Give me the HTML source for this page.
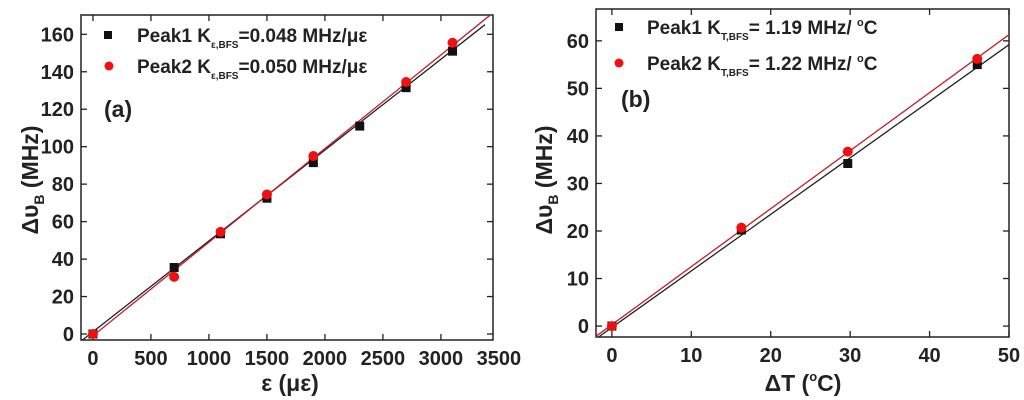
<!DOCTYPE html>
<html><head><meta charset="utf-8"><style>
html,body{margin:0;padding:0;background:#fff;}
svg{display:block;font-family:"Liberation Sans",sans-serif;font-weight:bold;}
</style></head><body>
<svg id="fig" width="1024" height="400" viewBox="0 0 1024 400" xmlns="http://www.w3.org/2000/svg">
<g id="pa"></g>
<g id="pb"></g>
</svg>
<script>
// Panel (a) data
const aX1 = [0, 700, 1100, 1500, 1900, 2300, 2700, 3100];
const aY1 = [0, 35.5, 53.5, 72.5, 91.5, 111, 131.5, 151];
const aX2 = [0, 700, 1100, 1500, 1900, 2700, 3100];
const aY2 = [0, 30.5, 54.5, 74.5, 95, 134.5, 155.5];
const aFit1 = [0.0485, 1.2];
const aFit2 = [0.050, -1.0];
const aXTicks = [0, 500, 1000, 1500, 2000, 2500, 3000, 3500];
const aYTicks = [0, 20, 40, 60, 80, 100, 120, 140, 160];
// Panel (b) data
const bX1 = [0, 16.3, 29.7, 46];
const bY1 = [0, 20.2, 34.2, 55];
const bX2 = [0, 16.3, 29.7, 46];
const bY2 = [0, 20.7, 36.7, 56.2];
const bFit1 = [1.19, -0.3];
const bFit2 = [1.22, 0.3];
const bXTicks = [0, 10, 20, 30, 40, 50];
const bYTicks = [0, 10, 20, 30, 40, 50, 60];

const NS = "http://www.w3.org/2000/svg";
function mk(parent, tag, attrs, text) {
  const e = document.createElementNS(NS, tag);
  for (const k in attrs) e.setAttribute(k, attrs[k]);
  if (text !== undefined) e.textContent = text;
  parent.appendChild(e);
  return e;
}

function panel(g, cfg) {
  const {L, R, T, B, x0, x1, y0, y1} = cfg;
  const sx = v => L + (v - x0) / (x1 - x0) * (R - L);
  const sy = v => B - (v - y0) / (y1 - y0) * (B - T);
  const fr = mk(g, 'rect', {x: L, y: T, width: R - L, height: B - T, fill: 'none', stroke: '#222', 'stroke-width': 1.5});
  
  
  cfg.xt.forEach(v => {
    const x = sx(v);
    if (x <= R + 1) {
      const t1 = mk(g, 'line', {x1: x, x2: x, y1: B, y2: B - 6, stroke: '#222', 'stroke-width': 1.3});
      
      
      const t2 = mk(g, 'line', {x1: x, x2: x, y1: T, y2: T + 6, stroke: '#222', 'stroke-width': 1.3});
      
      
    }
    const lb = mk(g, 'text', {x: x, y: B + 25, 'font-size': 20, 'text-anchor': 'middle', fill: '#222'}, String(v));
    
    
  });
  cfg.yt.forEach(v => {
    const y = sy(v);
    const t1 = mk(g, 'line', {x1: L, x2: L + 6, y1: y, y2: y, stroke: '#222', 'stroke-width': 1.3});
    
    
    const t2 = mk(g, 'line', {x1: R, x2: R - 6, y1: y, y2: y, stroke: '#222', 'stroke-width': 1.3});
    
    
    const lb = mk(g, 'text', {x: L - 7, y: y + 7, 'font-size': 20, 'text-anchor': 'end', fill: '#222'}, String(v));
    
    
  });
  const cid = 'c' + cfg.id;
  const cp = mk(g, 'clipPath', {id: cid});
  mk(cp, 'rect', {x: L, y: T, width: R - L, height: B - T});
  const pg = mk(g, 'g', {'clip-path': 'url(#' + cid + ')'});
  
  
  const f1 = mk(pg, 'line', {x1: sx(cfg.l1[0]), y1: sy(cfg.f1[0] * cfg.l1[0] + cfg.f1[1]), x2: sx(cfg.l1[1]), y2: sy(cfg.f1[0] * cfg.l1[1] + cfg.f1[1]), stroke: '#222', 'stroke-width': 1.3});
  
  
  const f2 = mk(pg, 'line', {x1: sx(cfg.l2[0]), y1: sy(cfg.f2[0] * cfg.l2[0] + cfg.f2[1]), x2: sx(cfg.l2[1]), y2: sy(cfg.f2[0] * cfg.l2[1] + cfg.f2[1]), stroke: '#c0202a', 'stroke-width': 1.3});
  
  
  cfg.x1s.forEach((v, i) => {
    const p = mk(pg, 'rect', {x: sx(v) - 4.5, y: sy(cfg.y1s[i]) - 4.5, width: 9, height: 9, fill: '#111'});
    
    
  });
  cfg.x2s.forEach((v, i) => {
    const p = mk(pg, 'circle', {cx: sx(v), cy: sy(cfg.y2s[i]), r: 5, fill: '#ee1111'});
    
    
  });
}

panel(document.getElementById('pa'), {id: 'a', L: 81, R: 493, T: 15, B: 340, x0: -103, x1: 3449, y0: -3.2, y1: 170.3,
  xt: aXTicks, yt: aYTicks, x1s: aX1, y1s: aY1, x2s: aX2, y2s: aY2, f1: aFit1, f2: aFit2, l1: [-100, 3380], l2: [-20, 3420]});
panel(document.getElementById('pb'), {id: 'b', L: 596, R: 1009, T: 9, B: 337, x0: -2, x1: 50, y0: -2.3, y1: 66.7,
  xt: bXTicks, yt: bYTicks, x1s: bX1, y1s: bY1, x2s: bX2, y2s: bY2, f1: bFit1, f2: bFit2, l1: [-3, 50], l2: [-3, 50]});
</script>
<svg style="position:absolute;left:0;top:0" width="1024" height="400">
<g font-family="Liberation Sans, sans-serif" font-weight="bold" fill="#222">
 <rect x="104" y="31" width="8" height="8" fill="#111"/>
 <text x="137" y="42" font-size="19">Peak1 K<tspan font-size="10" dy="6">ε,BFS</tspan><tspan dy="-6">=0.048 MHz/με</tspan></text>
 <circle cx="109" cy="66" r="4.5" fill="#ee1111"/>
 <text x="137" y="73" font-size="19">Peak2 K<tspan font-size="10" dy="6">ε,BFS</tspan><tspan dy="-6">=0.050 MHz/με</tspan></text>
 <text x="104" y="117" font-size="23">(a)</text>
 <text x="290" y="391" font-size="23" text-anchor="middle">ε (με)</text>
 <text transform="translate(38,180) rotate(-90)" font-size="23" text-anchor="middle">Δυ<tspan font-size="14" dy="6">B</tspan><tspan dy="-6"> (MHz)</tspan></text>

 <rect x="615" y="23" width="8" height="8" fill="#111"/>
 <text x="647" y="34" font-size="19">Peak1 K<tspan font-size="10" dy="6">T,BFS</tspan><tspan dy="-6">= 1.19 MHz/ </tspan><tspan font-size="11" dy="-8">o</tspan><tspan dy="8">C</tspan></text>
 <circle cx="619" cy="63" r="4.5" fill="#ee1111"/>
 <text x="647" y="70" font-size="19">Peak2 K<tspan font-size="10" dy="6">T,BFS</tspan><tspan dy="-6">= 1.22 MHz/ </tspan><tspan font-size="11" dy="-8">o</tspan><tspan dy="8">C</tspan></text>
 <text x="621" y="107" font-size="23">(b)</text>
 <text x="803" y="391" font-size="23" text-anchor="middle">ΔT (<tspan font-size="13" dy="-10">o</tspan><tspan dy="10">C)</tspan></text>
 <text transform="translate(552,180) rotate(-90)" font-size="23" text-anchor="middle">Δυ<tspan font-size="14" dy="6">B</tspan><tspan dy="-6"> (MHz)</tspan></text>
</g>
</svg>
</body></html>
